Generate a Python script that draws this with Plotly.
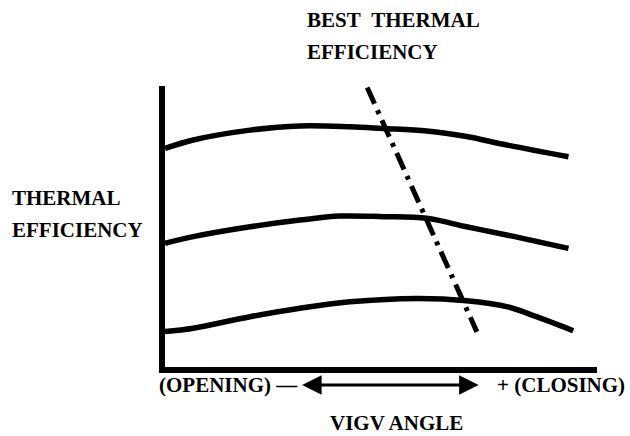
import plotly.graph_objects as go

# Curves (relative VIGV angle vs thermal efficiency, arbitrary units)
x_top = [0, 0.655, 1.97, 3.125, 4.28, 5.05, 6.06, 6.98, 7.91, 9.34]
y_top = [7.78, 8.08, 8.43, 8.58, 8.55, 8.49, 8.40, 8.20, 7.90, 7.48]

x_mid = [0, 0.655, 1.97, 3.125, 4.05, 5.05, 6.06, 6.98, 7.91, 9.34]
y_mid = [4.40, 4.64, 4.99, 5.23, 5.37, 5.35, 5.29, 4.99, 4.70, 4.22]

x_bot = [0, 0.655, 1.97, 3.125, 4.28, 5.83, 6.98, 7.91, 8.60, 9.45]
y_bot = [1.26, 1.38, 1.79, 2.09, 2.32, 2.44, 2.36, 2.15, 1.79, 1.29]

x_best = [4.68, 7.22]
y_best = [9.95, 1.25]

FONT = "Liberation Serif"

fig = go.Figure()
for xs, ys in [(x_top, y_top), (x_mid, y_mid), (x_bot, y_bot)]:
    fig.add_trace(go.Scatter(x=xs, y=ys, mode="lines",
                             line=dict(color="black", width=5.5, shape="spline"),
                             showlegend=False, hoverinfo="skip"))
fig.add_trace(go.Scatter(x=x_best, y=y_best, mode="lines",
                         line=dict(color="black", width=5, dash="18px,7px,4px,7px"),
                         showlegend=False, hoverinfo="skip"))

txt = dict(family=FONT, size=21, color="black")
ann = [
    dict(text="<b>BEST\u00a0\u00a0THERMAL</b>", x=0.324, y=1.235, xanchor="left"),
    dict(text="<b>EFFICIENCY</b>", x=0.324, y=1.121, xanchor="left"),
    dict(text="<b>THERMAL</b>", x=-0.359, y=0.601, xanchor="left"),
    dict(text="<b>EFFICIENCY</b>", x=-0.359, y=0.488, xanchor="left"),
    dict(text="<b>(OPENING) \u2014</b>", x=-0.0185, y=-0.064, xanchor="left"),
    dict(text="<b>+ (CLOSING)</b>", x=1.069, y=-0.064, xanchor="right"),
    dict(text="<b>VIGV ANGLE</b>", x=0.537, y=-0.199, xanchor="center"),
]
annotations = []
for a in ann:
    a.update(xref="paper", yref="paper", yanchor="middle", showarrow=False, font=txt)
    annotations.append(a)

# double-headed arrow below the axis
annotations.append(dict(x=0.726, y=-0.064, ax=-178, ay=0,
                        xref="paper", yref="paper", axref="pixel", ayref="pixel",
                        text="", showarrow=True, arrowhead=2, startarrowhead=2,
                        arrowside="end+start", arrowsize=1.3, startarrowsize=1.3,
                        arrowwidth=3, arrowcolor="black", standoff=0, startstandoff=0))

fig.update_layout(
    width=630, height=436,
    margin=dict(l=165, r=33, t=86, b=69),
    paper_bgcolor="white", plot_bgcolor="white",
    annotations=annotations,
    xaxis=dict(range=[0, 10], showgrid=False, zeroline=False, showticklabels=False,
               ticks="", showline=True, linecolor="black", linewidth=6),
    yaxis=dict(range=[0, 10], showgrid=False, zeroline=False, showticklabels=False,
               ticks="", showline=True, linecolor="black", linewidth=6),
)
fig.write_html("out.html", config={"displayModeBar": False})

# remove default page margin so the figure sits at the window's top-left corner
with open("out.html", encoding="utf-8") as f:
    html = f.read()
html = html.replace("<body>", '<body style="margin:0;padding:0;">', 1)
html = html.replace("<head>", '<head><style>html,body{margin:0;padding:0;overflow:hidden;}</style>', 1)
with open("out.html", "w", encoding="utf-8") as f:
    f.write(html)
